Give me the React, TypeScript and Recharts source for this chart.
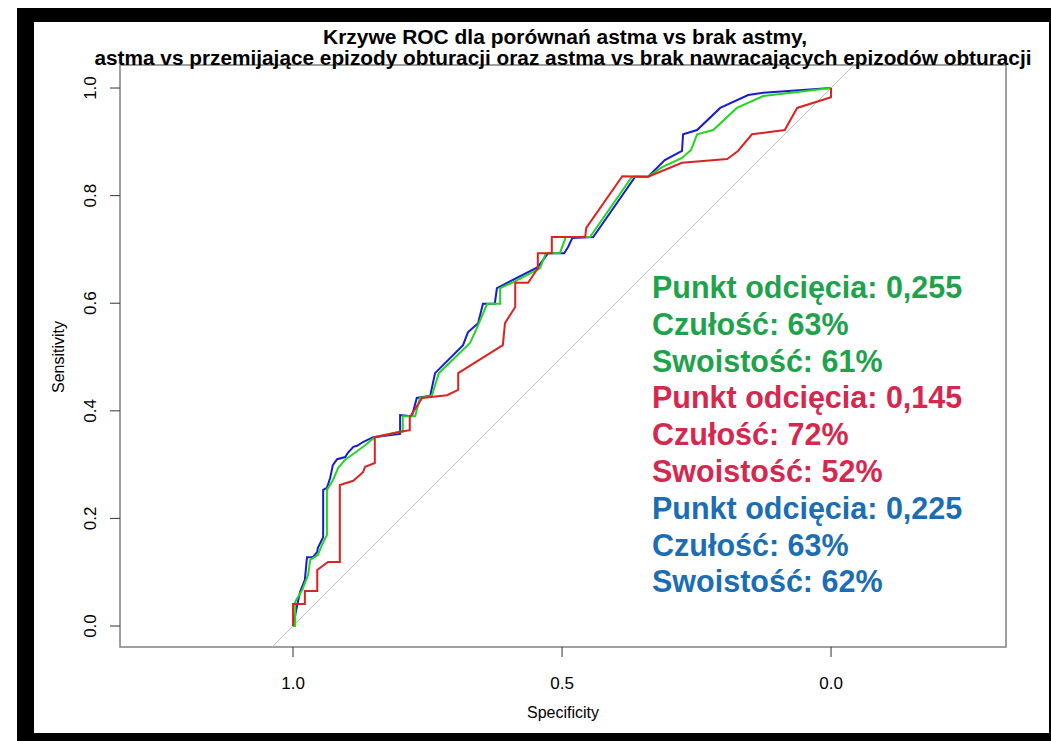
import { ComposedChart, Line, XAxis, YAxis, ReferenceArea, ReferenceLine } from "recharts";

// [specificity, sensitivity] pairs
const redCurve: [number, number][] = [
  [1.0, 0.0], [1.0, 0.041], [0.978, 0.041], [0.978, 0.065], [0.955, 0.065], [0.955, 0.104],
  [0.935, 0.119], [0.913, 0.119], [0.913, 0.262], [0.888, 0.27], [0.87, 0.286], [0.866, 0.296],
  [0.848, 0.303], [0.848, 0.351], [0.801, 0.361], [0.783, 0.364], [0.783, 0.388], [0.76, 0.424],
  [0.714, 0.429], [0.693, 0.439], [0.693, 0.47], [0.61, 0.522], [0.606, 0.563], [0.587, 0.593],
  [0.587, 0.638], [0.563, 0.638], [0.545, 0.665], [0.545, 0.693], [0.519, 0.693], [0.519, 0.723],
  [0.457, 0.723], [0.455, 0.74], [0.388, 0.836], [0.34, 0.835], [0.277, 0.861], [0.193, 0.868],
  [0.173, 0.883], [0.147, 0.914], [0.086, 0.922], [0.063, 0.963], [0.0, 0.983], [0.0, 1.0],
];

const greenCurve: [number, number][] = [
  [1.0, 0.0], [0.996, 0.0], [0.996, 0.045], [0.983, 0.067], [0.972, 0.095], [0.968, 0.123],
  [0.954, 0.132], [0.946, 0.151], [0.937, 0.169], [0.937, 0.253], [0.926, 0.271], [0.916, 0.294],
  [0.903, 0.309], [0.885, 0.322], [0.866, 0.336], [0.848, 0.351], [0.801, 0.361], [0.796, 0.361],
  [0.796, 0.39], [0.773, 0.39], [0.764, 0.424], [0.742, 0.428], [0.729, 0.47], [0.671, 0.526],
  [0.66, 0.55], [0.639, 0.599], [0.615, 0.599], [0.615, 0.628], [0.593, 0.638], [0.541, 0.665],
  [0.53, 0.693], [0.504, 0.693], [0.493, 0.723], [0.448, 0.723], [0.37, 0.835], [0.34, 0.835],
  [0.314, 0.853], [0.277, 0.87], [0.26, 0.885], [0.249, 0.914], [0.219, 0.922], [0.175, 0.963],
  [0.126, 0.985], [0.0, 1.0],
];

const blueCurve: [number, number][] = [
  [1.0, 0.0], [0.992, 0.04], [0.987, 0.063], [0.978, 0.086], [0.974, 0.128], [0.963, 0.128],
  [0.955, 0.138], [0.954, 0.145], [0.944, 0.165], [0.944, 0.253], [0.937, 0.257], [0.931, 0.275],
  [0.926, 0.299], [0.918, 0.31], [0.903, 0.314], [0.898, 0.322], [0.888, 0.333], [0.881, 0.335],
  [0.87, 0.342], [0.851, 0.351], [0.801, 0.357], [0.801, 0.392], [0.779, 0.39], [0.77, 0.424],
  [0.745, 0.428], [0.736, 0.47], [0.684, 0.522], [0.675, 0.546], [0.656, 0.563], [0.647, 0.599],
  [0.625, 0.599], [0.621, 0.628], [0.602, 0.638], [0.545, 0.667], [0.526, 0.693], [0.496, 0.693],
  [0.489, 0.704], [0.481, 0.721], [0.442, 0.723], [0.364, 0.835], [0.34, 0.835], [0.309, 0.866],
  [0.277, 0.883], [0.275, 0.914], [0.249, 0.922], [0.206, 0.963], [0.154, 0.987], [0.126, 0.991],
  [0.0, 1.0],
];

const specTicks = [0, 0.5, 1];
const sensTicks = [0, 0.2, 0.4, 0.6, 0.8, 1];

const titleLines = [
  "Krzywe ROC dla porównań astma vs brak astmy,",
  "astma vs przemijające epizody obturacji oraz astma vs brak nawracających epizodów obturacji",
];

const greenNotes = ["Punkt odcięcia: 0,255", "Czułość: 63%", "Swoistość: 61%"];
const redNotes = ["Punkt odcięcia: 0,145", "Czułość: 72%", "Swoistość: 52%"];
const blueNotes = ["Punkt odcięcia: 0,225", "Czułość: 63%", "Swoistość: 62%"];

const toRows = (pts: [number, number][]) => pts.map(([spec, sens]) => ({ spec, sens }));

const FONT = "'Liberation Sans', Arial, sans-serif";

const YTick = (props: any) => {
  const { x, y, payload } = props;
  return (
    <text
      x={x}
      y={y}
      transform={`rotate(-90, ${x}, ${y})`}
      textAnchor="middle"
      fontSize={17}
      fontFamily={FONT}
      fill="#000"
    >
      {payload.value.toFixed(1)}
    </text>
  );
};

export default function App() {
  const notes = [
    ...greenNotes.map((t) => ({ t, c: "#1fa24c" })),
    ...redNotes.map((t) => ({ t, c: "#d6284e" })),
    ...blueNotes.map((t) => ({ t, c: "#1b6db4" })),
  ];
  return (
    <div style={{ position: "absolute", left: 0, top: 0, width: 1051, height: 741, background: "#fff" }}>
      <ComposedChart width={1051} height={741} margin={{ top: 65, right: 45, bottom: 0, left: 0 }}>
        <XAxis
          type="number"
          dataKey="spec"
          domain={[-0.3252, 1.3216]}
          reversed
          allowDataOverflow
          ticks={specTicks}
          tickFormatter={(v: number) => v.toFixed(1)}
          height={94}
          axisLine={false}
          tickSize={10}
          tickMargin={20}
          tickLine={{ stroke: "#333" }}
          tick={{ fontSize: 17, fill: "#000", fontFamily: FONT }}
        />
        <YAxis
          type="number"
          dataKey="sens"
          domain={[-0.039, 1.0428]}
          allowDataOverflow
          ticks={sensTicks}
          width={120}
          axisLine={false}
          tickSize={10}
          tickMargin={14}
          tickLine={{ stroke: "#333" }}
          tick={<YTick />}
        />
        <ReferenceArea
          x1={-0.3252}
          x2={1.3216}
          y1={-0.039}
          y2={1.0428}
          fill="none"
          fillOpacity={0}
          stroke="#808080"
          strokeWidth={1.5}
          ifOverflow="visible"
        />
        <ReferenceLine
          segment={[{ x: 1.039, y: -0.039 }, { x: -0.0428, y: 1.0428 }]}
          stroke="#bdbdbd"
          strokeWidth={1}
        />
        <Line data={toRows(blueCurve)} dataKey="sens" type="linear" stroke="#1a1ad0" strokeWidth={2} dot={false} isAnimationActive={false} />
        <Line data={toRows(greenCurve)} dataKey="sens" type="linear" stroke="#22d622" strokeWidth={2} dot={false} isAnimationActive={false} />
        <Line data={toRows(redCurve)} dataKey="sens" type="linear" stroke="#dd2222" strokeWidth={2} dot={false} isAnimationActive={false} />
      </ComposedChart>
      <svg width={1051} height={741} style={{ position: "absolute", left: 0, top: 0, pointerEvents: "none" }}>
        <text x={565} y={44} textAnchor="middle" fontSize={20} fontWeight="bold" fontFamily={FONT} textLength={484} lengthAdjust="spacingAndGlyphs">
          {titleLines[0]}
        </text>
        <text x={563} y={65} textAnchor="middle" fontSize={20} fontWeight="bold" fontFamily={FONT} textLength={937} lengthAdjust="spacingAndGlyphs">
          {titleLines[1]}
        </text>
        <text x={563} y={718} textAnchor="middle" fontSize={16} fontFamily={FONT}>Specificity</text>
        <text x={64} y={357} textAnchor="middle" fontSize={16} fontFamily={FONT} transform="rotate(-90, 64, 357)">Sensitivity</text>
        {notes.map((n, i) => (
          <text key={i} x={652} y={298 + i * 36.8} fontSize={30.5} fontWeight="bold" fontFamily={FONT} fill={n.c}>
            {n.t}
          </text>
        ))}
        <rect x={17} y={8} width={17} height={733} fill="#000" />
        <rect x={17} y={8} width={1034} height={14} fill="#000" />
        <rect x={17} y={733} width={1034} height={8} fill="#000" />
        <rect x={1049} y={8} width={2} height={733} fill="#000" />
      </svg>
    </div>
  );
}
